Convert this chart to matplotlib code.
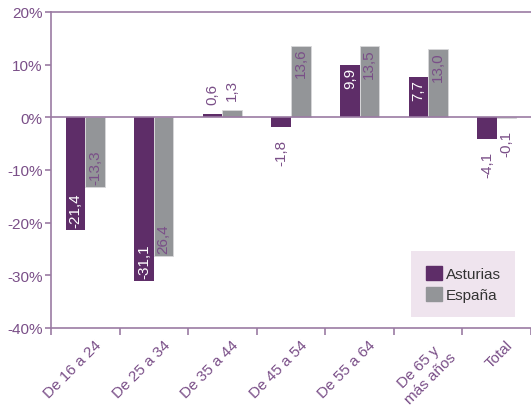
import numpy as np
import matplotlib.pyplot as plt
import matplotlib.transforms as mtransforms
from matplotlib.patches import Patch

categories = ["De 16 a 24", "De 25 a 34", "De 35 a 44", "De 45 a 54",
              "De 55 a 64", "De 65 y\nmás años", "Total"]
asturias = [-21.4, -31.1, 0.6, -1.8, 9.9, 7.7, -4.1]
espana = [-13.3, -26.4, 1.3, 13.6, 13.5, 13.0, -0.1]
# labels as printed in the source (the minus sign of 26,4 is missing there)
asturias_txt = ["-21,4", "-31,1", "0,6", "-1,8", "9,9", "7,7", "-4,1"]
espana_txt = ["-13,3", "26,4", "1,3", "13,6", "13,5", "13,0", "-0,1"]

PURPLE = "#5e2d68"
GREY = "#939598"
AXIS = "#9b7ba3"
TEXT = "#7a4f88"

plt.rcParams['font.family'] = ['Liberation Sans', 'DejaVu Sans']

fig = plt.figure(figsize=(5.31, 4.10), dpi=100)
ax = fig.add_axes([51 / 531, (410 - 329) / 410, 480 / 531, (329 - 13) / 410])

x = np.arange(len(categories))
w = 0.285
ax.bar(x - w / 2, asturias, w, color=PURPLE, zorder=3)
ax.bar(x + w / 2, espana, w, color=GREY, edgecolor="#d8d8da", linewidth=0.6, zorder=3)


def label(xpos, val, txt, inside_color):
    # inside the bar near its end when the bar is long, else just outside
    if abs(val) >= 5:
        y = val - 0.4 if val > 0 else val + 0.6
        va = "top" if val > 0 else "bottom"
        color = inside_color
    else:
        y = val + 2.0 if val >= 0 else val - 2.2
        va = "bottom" if val >= 0 else "top"
        color = TEXT
    ax.text(xpos, y, txt, rotation=90, ha="center", va=va, color=color,
            fontsize=11, zorder=4)


for i in range(len(categories)):
    label(x[i] - w / 2, asturias[i], asturias_txt[i], "white")
    label(x[i] + w / 2, espana[i], espana_txt[i], TEXT)

ax.set_ylim(-40, 20)
ax.set_xlim(-0.5, 6.5)
ax.set_yticks(np.arange(-40, 21, 10))
ax.set_yticklabels([f"{v}%" for v in range(-40, 21, 10)])
ax.axhline(0, color=AXIS, linewidth=1.2, zorder=5)
ax.axhline(20, color=AXIS, linewidth=1.2, zorder=5, clip_on=False)

ax.set_xticks(x)
ax.set_xticklabels(categories, rotation=45, ha="right", rotation_mode="anchor",
                   multialignment="center")
ax.set_xticks(np.arange(-0.5, 7, 1), minor=True)
ax.tick_params(axis="x", which="major", length=0, pad=7, labelsize=11, labelcolor=TEXT)
ax.tick_params(axis="x", which="minor", length=5, color=AXIS, width=1.2)
ax.tick_params(axis="y", length=4, color=AXIS, width=1.2, labelsize=11, labelcolor=TEXT, pad=2)

# nudge the slanted category labels to the right, as in the source
shift = mtransforms.ScaledTranslation(9 / 100, 0, fig.dpi_scale_trans)
for t in ax.get_xticklabels():
    t.set_transform(t.get_transform() + shift)

for s in ["top", "right"]:
    ax.spines[s].set_visible(False)
for s in ["left", "bottom"]:
    ax.spines[s].set_color(AXIS)
    ax.spines[s].set_linewidth(1.2)

handles = [Patch(color=PURPLE, label="Asturias"), Patch(color=GREY, label="España")]
leg = ax.legend(handles=handles, loc="lower right", bbox_to_anchor=(0.967, 0.035),
                borderaxespad=0, frameon=True, fancybox=False, fontsize=11,
                handlelength=1.05, handleheight=1.05, handletextpad=0.25,
                borderpad=0.95, labelspacing=0.4)
leg.get_frame().set_facecolor("#efe4ee")
leg.get_frame().set_edgecolor("none")
leg.get_frame().set_alpha(1)
for t in leg.get_texts():
    t.set_color("#333333")

fig.savefig("out.png", dpi=100)
